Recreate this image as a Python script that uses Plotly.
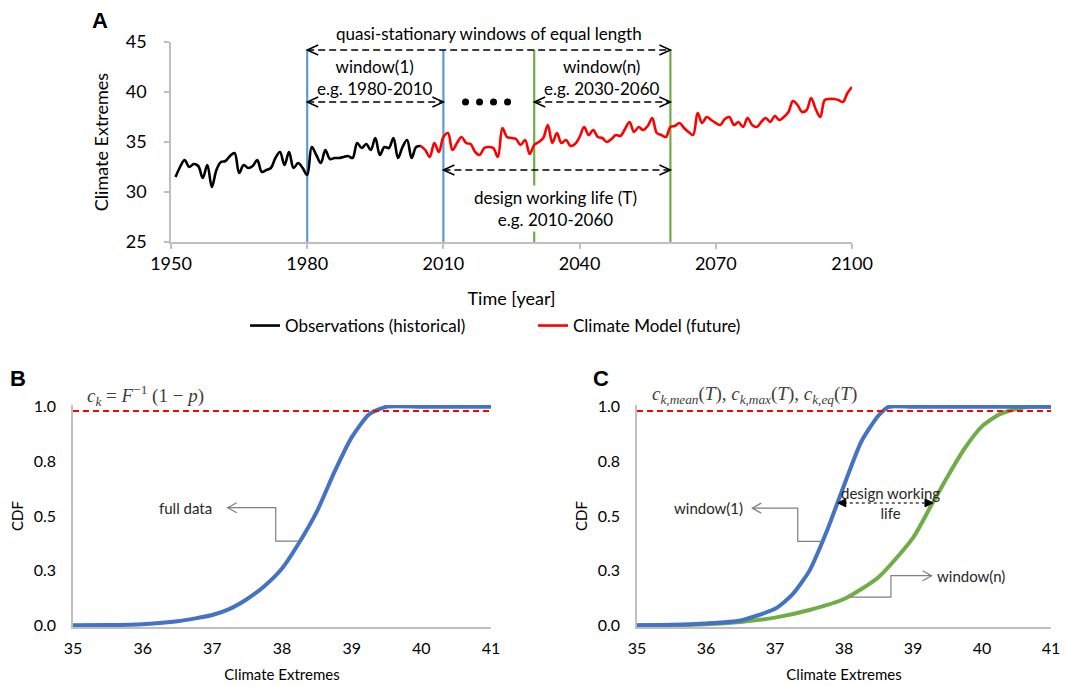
import plotly.graph_objects as go

# ---------------- data ----------------
obs_years = list(range(1951, 2006))
obs_values = [31.5, 32.5, 33.2, 32.5, 32.8, 32.6, 31.4, 32.7, 30.5, 32.2,
              33.0, 33.1, 33.6, 33.9, 31.9, 32.7, 32.4, 32.6, 33.2, 32.0,
              32.2, 32.4, 33.4, 34.0, 32.7, 34.0, 32.4, 32.9, 32.4, 31.7,
              34.5, 33.7, 32.9, 34.2, 33.3, 33.4, 33.4, 33.5, 33.6, 33.4,
              34.9, 34.4, 34.8, 34.2, 35.4, 33.7, 34.5, 34.4, 35.4, 33.4,
              34.5, 35.2, 33.4, 34.5, 34.6]

model_years = list(range(2005, 2101))
model_values = [34.6, 34.2, 33.5, 34.9, 34.0, 35.5, 35.9, 34.2, 34.9, 35.5,
                34.9, 34.8, 34.0, 33.7, 34.4, 34.5, 34.4, 33.5, 36.4, 35.5,
                35.4, 35.3, 34.7, 35.2, 33.8, 34.7, 35.0, 35.4, 36.7, 34.9,
                35.9, 34.9, 35.2, 34.6, 34.8, 35.5, 36.5, 35.7, 36.2, 35.5,
                35.4, 35.0, 35.3, 35.7, 35.6, 36.3, 37.0, 36.0, 36.5, 36.2,
                36.6, 37.4, 35.9, 35.7, 35.5, 36.5, 36.6, 36.9, 36.4, 36.0,
                35.7, 37.9, 36.9, 37.5, 37.2, 36.9, 36.7, 37.3, 37.5, 36.7,
                37.0, 36.5, 37.4, 36.7, 36.5, 37.0, 37.4, 37.0, 37.6, 37.2,
                37.5, 38.0, 39.1, 38.7, 38.0, 38.2, 39.4, 38.3, 37.5, 39.2,
                39.3, 39.3, 39.2, 39.0, 39.9, 40.5]

cdf_full_x = [35, 35.5, 36, 36.5, 37, 37.25, 37.5, 37.75, 38, 38.25, 38.5, 38.75, 39, 39.25, 39.5, 40, 40.5, 41]
cdf_full_y = [0.0, 0.001, 0.005, 0.018, 0.047, 0.075, 0.12, 0.18, 0.26, 0.38, 0.52, 0.70, 0.86, 0.965, 1.0, 1.0, 1.0, 1.0]

cdf_w1_x = [35, 35.5, 36, 36.5, 37, 37.25, 37.5, 37.75, 38, 38.25, 38.5, 38.65, 39, 40, 41]
cdf_w1_y = [0.0, 0.002, 0.008, 0.022, 0.075, 0.14, 0.25, 0.43, 0.64, 0.84, 0.96, 1.0, 1.0, 1.0, 1.0]

cdf_wn_x = [35, 35.5, 36, 36.5, 37, 37.5, 38, 38.5, 39, 39.25, 39.5, 39.75, 40, 40.25, 40.5, 40.7, 41]
cdf_wn_y = [0.0, 0.001, 0.005, 0.015, 0.035, 0.07, 0.12, 0.22, 0.40, 0.54, 0.68, 0.81, 0.91, 0.965, 0.99, 1.0, 1.0]

x_ticks_a = [1950, 1980, 2010, 2040, 2070, 2100]
y_ticks_a = [25, 30, 35, 40, 45]
cdf_tickvals = [0, 0.25, 0.5, 0.75, 1.0]
cdf_ticktext = ["0.0", "0.3", "0.5", "0.8", "1.0"]
threshold_p = 0.98

# ---------------- styles ----------------
FONT = "Lato"
BLUE_V = "#5b9bd5"
GREEN_V = "#70ad47"
BLUE_C = "#4472c4"
GREEN_C = "#70ad47"
AXIS_GRAY = "#bfbfbf"
LEAD_GRAY = "#7f7f7f"

W, H = 1069, 686
OFF = 8  # page body margin


def px_x(p):
    return (p - OFF) / W


def px_y(p):
    return 1 - (p - OFF) / H


fig = go.Figure()

fig.add_trace(go.Scatter(x=obs_years, y=obs_values, mode="lines", name="Observations (historical)",
                         line=dict(color="black", width=2.6, shape="spline", smoothing=1.0),
                         xaxis="x", yaxis="y"))
fig.add_trace(go.Scatter(x=model_years, y=model_values, mode="lines", name="Climate Model (future)",
                         line=dict(color="#ff0000", width=2.6, shape="spline", smoothing=1.0),
                         xaxis="x", yaxis="y"))

fig.add_trace(go.Scatter(x=cdf_full_x, y=cdf_full_y, mode="lines", showlegend=False,
                         line=dict(color=BLUE_C, width=4, shape="spline", smoothing=0.6),
                         xaxis="x2", yaxis="y2"))
fig.add_trace(go.Scatter(x=cdf_wn_x, y=cdf_wn_y, mode="lines", showlegend=False,
                         line=dict(color=GREEN_C, width=4, shape="spline", smoothing=0.6),
                         xaxis="x3", yaxis="y3"))
fig.add_trace(go.Scatter(x=cdf_w1_x, y=cdf_w1_y, mode="lines", showlegend=False,
                         line=dict(color=BLUE_C, width=4, shape="spline", smoothing=0.6),
                         xaxis="x3", yaxis="y3"))

shapes = []
annotations = []


def chevron(x, y, direction, xref, yref, color="black", w=11, h=5, width=1.5, filled=False):
    s = 1 if direction == "left" else -1
    path = f"M {s*w},{h} L 0,0 L {s*w},{-h}"
    d = dict(type="path", xref=xref, yref=yref, xsizemode="pixel", ysizemode="pixel",
             xanchor=x, yanchor=y, path=path + (" Z" if filled else ""),
             line=dict(color=color, width=width))
    if filled:
        d["fillcolor"] = color
    return d


def dashed_double_arrow(x0, x1, y, xref="x", yref="y"):
    shapes.append(dict(type="line", xref=xref, yref=yref, x0=x0, x1=x1, y0=y, y1=y,
                       line=dict(color="black", width=1.5, dash="7px,4px")))
    shapes.append(chevron(x0, y, "left", xref, yref))
    shapes.append(chevron(x1, y, "right", xref, yref))


def ann(**kw):
    d = dict(showarrow=False, xanchor="center", yanchor="middle")
    d.update(kw)
    annotations.append(d)


# vertical window lines (panel A)
top_v = 44.2
for xv, col in [(1980, BLUE_V), (2010, BLUE_V), (2030, GREEN_V), (2060, GREEN_V)]:
    shapes.append(dict(type="line", xref="x", yref="y", x0=xv, x1=xv, y0=25, y1=top_v,
                       line=dict(color=col, width=2.2), layer="below"))

dashed_double_arrow(1980, 2060, top_v)
dashed_double_arrow(1980, 2010, 39.0)
dashed_double_arrow(2030, 2060, 39.0)
dashed_double_arrow(2010, 2060, 32.2)

# dots
for off in [-21, -7, 7, 21]:
    shapes.append(dict(type="circle", xref="x", yref="y", xsizemode="pixel", ysizemode="pixel",
                       xanchor=2019.5, yanchor=39.0, x0=off - 3.5, x1=off + 3.5, y0=-3.5, y1=3.5,
                       fillcolor="black", line=dict(width=0)))

tf = dict(family=FONT, size=17, color="black")
ann(x=2020, y=px_y(33), xref="x", yref="paper", text="quasi-stationary windows of equal length", font=tf)
ann(x=1995, y=41.45, xref="x", yref="y", text="window(1)<br>e.g. 1980-2010", font=tf)
ann(x=2045, y=41.45, xref="x", yref="y", text="window(n)<br>e.g. 2030-2060", font=tf)
ann(x=2034.8, y=28.4, xref="x", yref="y", text="design working life (T)<br>e.g. 2010-2060",
    font=tf, bgcolor="white")

# panel labels
lab = dict(family="Liberation Sans", size=22, color="black")
ann(x=px_x(100), y=px_y(20), xref="paper", yref="paper", text="<b>A</b>", font=lab)
ann(x=px_x(18), y=px_y(378), xref="paper", yref="paper", text="<b>B</b>", font=lab)
ann(x=px_x(601), y=px_y(378), xref="paper", yref="paper", text="<b>C</b>", font=lab)

# threshold lines (B, C)
for xr, yr in [("x2", "y2"), ("x3", "y3")]:
    shapes.append(dict(type="line", xref=xr, yref=yr, x0=35, x1=41, y0=threshold_p, y1=threshold_p,
                       line=dict(color="#ff0000", width=2, dash="6px,4px")))

math_font = dict(family="Liberation Serif", size=19, color="#404040")
ann(x=px_x(85), y=px_y(395), xref="paper", yref="paper", xanchor="left",
    text="<i>c<sub>k</sub></i> = <i>F</i><sup>−1</sup> (1 − <i>p</i>)", font=math_font)
ann(x=px_x(650), y=px_y(395), xref="paper", yref="paper", xanchor="left",
    text="<i>c<sub>k,mean</sub></i>(<i>T</i>), <i>c<sub>k,max</sub></i>(<i>T</i>), <i>c<sub>k,eq</sub></i>(<i>T</i>)",
    font=math_font)

small = dict(family=FONT, size=15, color="#262626")
# panel B leader
shapes.append(dict(type="path", xref="x2", yref="y2",
                   path="M 37.22,0.538 L 37.91,0.538 L 37.91,0.385 L 38.25,0.385",
                   line=dict(color=LEAD_GRAY, width=1.2)))
shapes.append(chevron(37.22, 0.538, "left", "x2", "y2", color=LEAD_GRAY, w=9, h=5, width=1.2))
ann(x=37.02, y=0.538, xref="x2", yref="y2", xanchor="right", text="full data", font=small)

# panel C leaders
shapes.append(dict(type="path", xref="x3", yref="y3",
                   path="M 36.67,0.536 L 37.33,0.536 L 37.33,0.384 L 37.68,0.384",
                   line=dict(color=LEAD_GRAY, width=1.2)))
shapes.append(chevron(36.67, 0.536, "left", "x3", "y3", color=LEAD_GRAY, w=9, h=5, width=1.2))
ann(x=36.57, y=0.536, xref="x3", yref="y3", xanchor="right", text="window(1)", font=small)

shapes.append(dict(type="path", xref="x3", yref="y3",
                   path="M 38.09,0.129 L 38.68,0.129 L 38.68,0.227 L 39.27,0.227",
                   line=dict(color=LEAD_GRAY, width=1.2)))
shapes.append(chevron(39.27, 0.227, "right", "x3", "y3", color=LEAD_GRAY, w=9, h=5, width=1.2))
ann(x=39.32, y=0.227, xref="x3", yref="y3", xanchor="left", text="window(n)", font=small)

# design working life dotted arrow (C)
shapes.append(dict(type="line", xref="x3", yref="y3", x0=37.91, x1=39.29, y0=0.56, y1=0.56,
                   line=dict(color="#404040", width=1.5, dash="dot")))
shapes.append(chevron(37.91, 0.56, "left", "x3", "y3", color="black", w=8, h=4, width=1, filled=True))
shapes.append(chevron(39.29, 0.56, "right", "x3", "y3", color="black", w=8, h=4, width=1, filled=True))
ann(x=38.68, y=0.56, xref="x3", yref="y3", text="design working<br>life", font=small)

axis_common = dict(showline=True, linecolor=AXIS_GRAY, linewidth=1.5, showgrid=False, zeroline=False,
                   automargin=False)

fig.update_layout(
    width=W, height=H,
    margin=dict(l=0, r=0, t=0, b=0, pad=0, autoexpand=False),
    paper_bgcolor="white", plot_bgcolor="white",
    font=dict(family=FONT, color="black"),
    shapes=shapes, annotations=annotations,
    showlegend=True,
    legend=dict(orientation="h", x=px_x(245), y=px_y(326), xanchor="left", yanchor="middle",
                font=dict(family=FONT, size=17, color="black"),
                entrywidth=243, entrywidthmode="pixels", itemwidth=30,
                bgcolor="rgba(0,0,0,0)"),
    xaxis=dict(domain=[px_x(171), px_x(852)], anchor="y", range=[1950, 2100], tickvals=x_ticks_a,
               ticks="outside", ticklen=5, tickcolor=AXIS_GRAY, tickwidth=1.5,
               tickfont=dict(size=18), title=dict(text="Time [year]", font=dict(size=18), standoff=19),
               **axis_common),
    yaxis=dict(domain=[px_y(242), px_y(42)], anchor="x", range=[25, 45], tickvals=y_ticks_a,
               ticks="outside", ticklen=5, tickcolor=AXIS_GRAY, tickwidth=1.5, ticklabelstandoff=14,
               tickfont=dict(size=18), title=dict(text="Climate Extremes", font=dict(size=18), standoff=12),
               **axis_common),
    xaxis2=dict(domain=[px_x(73), px_x(491)], anchor="y2", range=[35, 41], dtick=1,
                tickfont=dict(size=16), ticklabelstandoff=6,
                title=dict(text="Climate Extremes", font=dict(size=15), standoff=14), **axis_common),
    yaxis2=dict(domain=[px_y(627), px_y(405)], anchor="x2", range=[-0.008, 1.008],
                tickvals=cdf_tickvals, ticktext=cdf_ticktext, tickfont=dict(size=16), ticklabelstandoff=12,
                title=dict(text="CDF", font=dict(size=15), standoff=6), **axis_common),
    xaxis3=dict(domain=[px_x(637), px_x(1051)], anchor="y3", range=[35, 41], dtick=1,
                tickfont=dict(size=16), ticklabelstandoff=6,
                title=dict(text="Climate Extremes", font=dict(size=15), standoff=14), **axis_common),
    yaxis3=dict(domain=[px_y(627), px_y(405)], anchor="x3", range=[-0.008, 1.008],
                tickvals=cdf_tickvals, ticktext=cdf_ticktext, tickfont=dict(size=16), ticklabelstandoff=12,
                title=dict(text="CDF", font=dict(size=15), standoff=6), **axis_common),
)

fig.write_html("out.html")
